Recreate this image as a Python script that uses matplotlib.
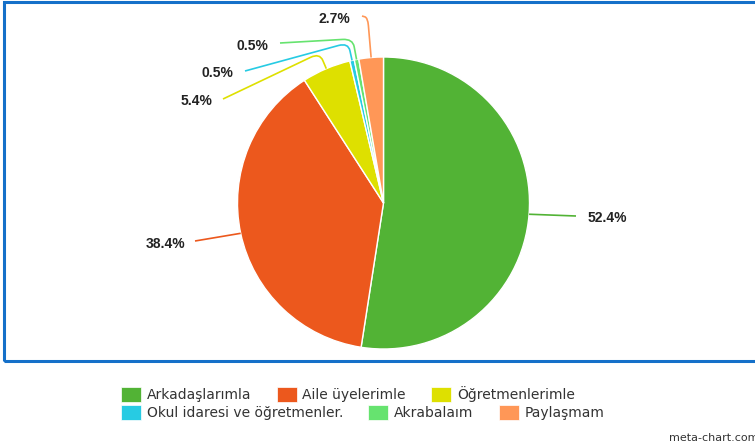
import matplotlib
matplotlib.use("Agg")
import numpy as np
import matplotlib.pyplot as plt
from matplotlib.patches import Rectangle, PathPatch
from matplotlib.path import Path

# Veriler
categories = ["Arkadaşlarımla", "Aile üyelerimle", "Öğretmenlerimle",
              "Okul idaresi ve öğretmenler.", "Akrabalaım", "Paylaşmam"]
values = [52.4, 38.4, 5.4, 0.5, 0.5, 2.7]
colors = ["#52b335", "#ec581d", "#dee000", "#27cbe3", "#66e36f", "#ff9757"]

W, H = 755, 448

def py(y):
    return H - y

fig = plt.figure(figsize=(W / 100, H / 100), dpi=100)
ax = fig.add_axes([0, 0, 1, 1])

cx, cy, R = 383.5, 203, 146
wedges, _ = ax.pie(values, colors=colors, startangle=90, counterclock=False,
                   center=(cx, py(cy)), radius=R,
                   wedgeprops=dict(edgecolor="white", linewidth=1))
ax.set_xlim(0, W)
ax.set_ylim(0, H)
ax.set_aspect("equal")
ax.axis("off")

# etiket yerleşimi: (metin x, metin y, hizalama, çizgi ucu x, çizgi ucu y, dirsek)
label_style = [
    (588, 218, "left", 576, 216, None),
    (185, 244, "right", 195, 241, None),
    (212, 101, "right", 223, 99, 17),
    (233, 73, "right", 245, 71, 18),
    (268, 46, "right", 280, 43, 21),
    (350, 19, "right", 362, 16, 40),
]

for w, v, c, (tx, ty, ha, lx, ly, ext) in zip(wedges, values, colors, label_style):
    mid = np.deg2rad((w.theta1 + w.theta2) / 2)
    d = np.array([np.cos(mid), np.sin(mid)])
    anchor = np.array([cx, py(cy)]) + R * d
    end = np.array([lx, py(ly)])
    if ext is None:
        verts = [end, anchor]
        codes = [Path.MOVETO, Path.LINETO]
    else:
        elbow = np.array([cx, py(cy)]) + (R + ext) * d
        u = (end - elbow) / np.linalg.norm(end - elbow)
        c1 = elbow + u * min(10, np.linalg.norm(end - elbow) / 2)
        c2 = elbow - d * 8
        verts = [end, c1, elbow, c2, anchor]
        codes = [Path.MOVETO, Path.LINETO, Path.CURVE3, Path.CURVE3, Path.LINETO]
    ax.add_patch(PathPatch(Path(verts, codes), facecolor="none", edgecolor=c,
                           lw=1.2, zorder=1))
    ax.text(tx, py(ty), f"{v:.1f}%", ha=ha, va="center", fontsize=10,
            fontweight="bold", color="#222222", family="Liberation Sans")

# çerçeve
ax.add_patch(Rectangle((4, py(361)), 770, 359, fill=False,
                       edgecolor="#1570c9", lw=2.2, clip_on=False))

# lejant
fig.canvas.draw()
renderer = fig.canvas.get_renderer()
rows = [categories[:3], categories[3:]]
row_colors = [colors[:3], colors[3:]]
row_y = [394.5, 412.5]
for items, cols, yy in zip(rows, row_colors, row_y):
    x = 121
    for name, c in zip(items, cols):
        ax.add_patch(Rectangle((x, py(yy) - 7.5), 20, 15, facecolor=c,
                               edgecolor="white", lw=0.5))
        t = ax.text(x + 26, py(yy), name, ha="left", va="center",
                    fontsize=10, color="#333333", family="DejaVu Sans")
        bb = t.get_window_extent(renderer=renderer)
        x = x + 26 + bb.width + 25

ax.text(669, py(438), "meta-chart.com", ha="left", va="center", fontsize=8,
        color="#333333", family="DejaVu Sans")

fig.savefig("out.png", dpi=100)
